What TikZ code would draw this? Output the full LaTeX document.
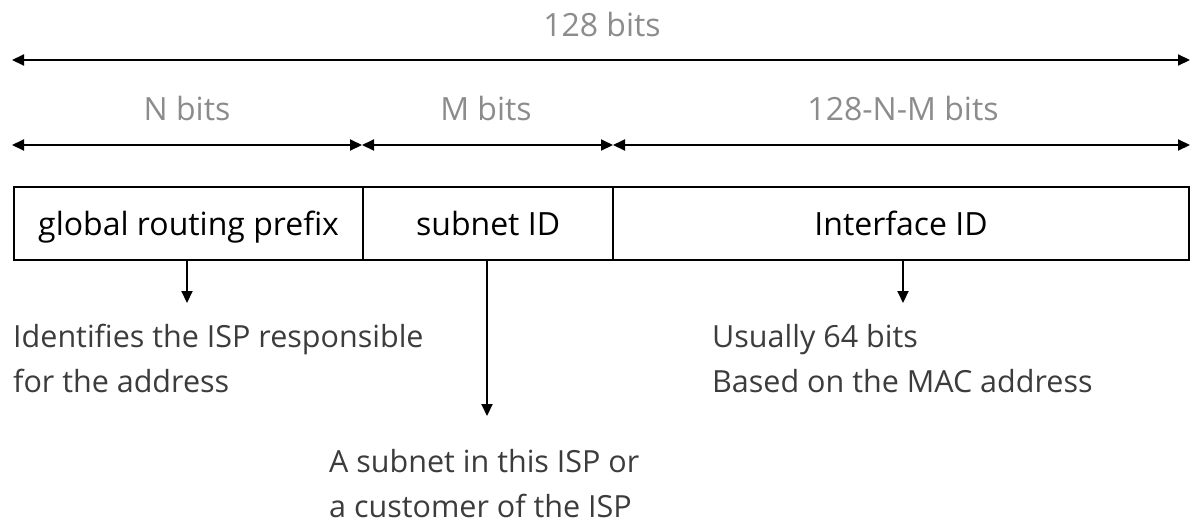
\documentclass[tikz,border=0pt]{standalone}
\usepackage{fontspec}
\setmainfont{Open Sans}
\usetikzlibrary{arrows.meta}
\definecolor{lblgray}{HTML}{8C8C8C}
\definecolor{txtgray}{HTML}{3C3C3C}
\begin{document}
\begin{tikzpicture}[x=1pt,y=-1pt,
  cell/.style={draw=black,line width=2.2pt,minimum height=73pt,inner sep=0pt,text height=23pt,text depth=0pt,anchor=north west,font=\fontsize{32}{38}\selectfont},
  lbl/.style={text=lblgray,anchor=base,inner sep=0pt,font=\fontsize{32}{38}\selectfont},
  desc/.style={text=txtgray,anchor=base west,inner sep=0pt,font=\fontsize{30.5}{45}\selectfont},
  dim/.style={line width=2pt,{Triangle[length=12pt,width=11pt]}-{Triangle[length=12pt,width=11pt]}},
  pt/.style={line width=2pt,-{Triangle[length=12pt,width=11pt]}}
]
\useasboundingbox (0,0) rectangle (1202,528);
% cells
\node[cell,minimum width=349pt] (g) at (13,186) {global routing prefix};
\node[cell,minimum width=250pt] (s) at (362,186) {subnet ID};
\node[cell,minimum width=576pt] (i) at (612,186) {Interface ID};
% labels
\node[lbl] (t128) at (602,36) {128 bits};
\node[lbl] (tn) at (187,120) {N bits};
\node[lbl] (tm) at (486,120) {M bits};
\node[lbl] (tr) at (903,120) {128-N-M bits};
% dimension arrows
\coordinate (a0) at (12,60);
\coordinate (a1) at (1190,60);
\coordinate (b0) at (12,145);
\coordinate (b1) at (362,145);
\coordinate (b2) at (613,145);
\coordinate (b3) at (1190,145);
\draw[dim] (a0) -- (a1);
\draw[dim] (b0) -- (b1);
\draw[dim] (b1) -- (b2);
\draw[dim] (b2) -- (b3);
% descriptions
\node[desc] (d1a) at (13,347) {Identifies the ISP responsible};
\node[desc] (d1b) at (13,392) {for the address};
\node[desc] (d3a) at (712,347) {Usually 64 bits};
\node[desc] (d3b) at (712,392) {Based on the MAC address};
\node[desc] (d2a) at (329,472) {A subnet in this ISP or};
\node[desc] (d2b) at (329,517) {a customer of the ISP};
% pointer arrows
\coordinate (pg) at (187,303);
\coordinate (ps) at (487,416);
\coordinate (pi) at (903,303);
\draw[pt] (g.south -| pg) -- (pg);
\draw[pt] (s.south -| ps) -- (ps);
\draw[pt] (i.south -| pi) -- (pi);
\end{tikzpicture}
\end{document}
